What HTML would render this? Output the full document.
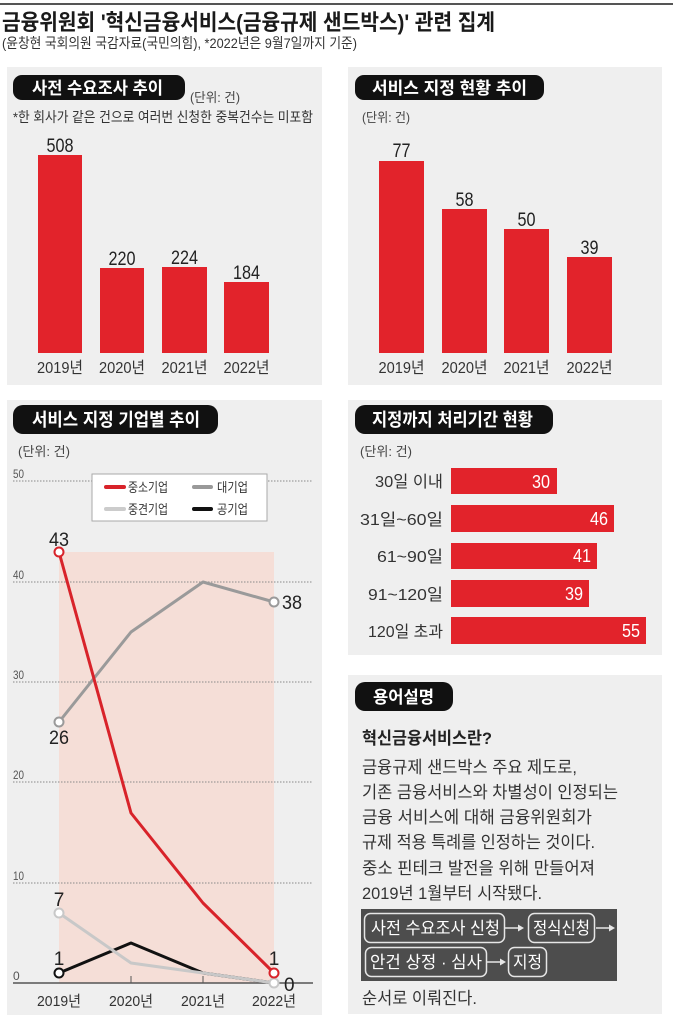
<!DOCTYPE html>
<html><head><meta charset="utf-8"><style>
html,body{margin:0;padding:0;background:#fff;}
svg{display:block;}
text{font-family:"Liberation Sans","Noto Sans CJK KR",sans-serif;}
.k{font-family:"Liberation Sans","Noto Sans CJK KR",sans-serif;}
</style></head><body>
<svg width="673" height="1024" viewBox="0 0 673 1024" xmlns="http://www.w3.org/2000/svg">
<rect x="0" y="0" width="673" height="1024" fill="#fff"/>
<rect x="0" y="3" width="673" height="2" fill="#555"/>
<text x="2" y="30" font-size="22" font-weight="bold" fill="#1a1a1a" textLength="493" lengthAdjust="spacingAndGlyphs">금융위원회 '혁신금융서비스(금융규제 샌드박스)' 관련 집계</text>
<text x="2" y="48" font-size="14" fill="#333" textLength="355" lengthAdjust="spacingAndGlyphs">(윤창현 국회의원 국감자료(국민의힘), *2022년은 9월7일까지 기준)</text>

<!-- Panel 1 -->
<rect x="7" y="67" width="315" height="318" fill="#efefef"/>
<rect x="13" y="75" width="172" height="25" rx="9" fill="#111"/>
<text x="32" y="94" font-size="17" font-weight="bold" fill="#fff" textLength="131" lengthAdjust="spacingAndGlyphs">사전 수요조사 추이</text>
<text x="190" y="102" font-size="13" fill="#444" textLength="50" lengthAdjust="spacingAndGlyphs">(단위: 건)</text>
<text x="13" y="122" font-size="14" fill="#333" textLength="300" lengthAdjust="spacingAndGlyphs">*한 회사가 같은 건으로 여러번 신청한 중복건수는 미포함</text>
<g fill="#e2232b">
<rect x="38" y="155" width="44" height="198"/>
<rect x="100" y="268" width="44" height="85"/>
<rect x="162" y="267" width="45" height="86"/>
<rect x="224" y="282" width="45" height="71"/>
</g>
<g font-size="19" fill="#222" text-anchor="middle">
<text x="60" y="152" textLength="27" lengthAdjust="spacingAndGlyphs">508</text>
<text x="122" y="265" textLength="27" lengthAdjust="spacingAndGlyphs">220</text>
<text x="184.5" y="264" textLength="27" lengthAdjust="spacingAndGlyphs">224</text>
<text x="246.5" y="279" textLength="27" lengthAdjust="spacingAndGlyphs">184</text>
</g>
<g font-size="16" fill="#333" text-anchor="middle">
<text x="60" y="373" textLength="46" lengthAdjust="spacingAndGlyphs">2019년</text>
<text x="122" y="373" textLength="46" lengthAdjust="spacingAndGlyphs">2020년</text>
<text x="184.5" y="373" textLength="46" lengthAdjust="spacingAndGlyphs">2021년</text>
<text x="246.5" y="373" textLength="46" lengthAdjust="spacingAndGlyphs">2022년</text>
</g>

<!-- Panel 2 -->
<rect x="348" y="67" width="314" height="318" fill="#efefef"/>
<rect x="355" y="75" width="189" height="25" rx="9" fill="#111"/>
<text x="372" y="94" font-size="17" font-weight="bold" fill="#fff" textLength="155" lengthAdjust="spacingAndGlyphs">서비스 지정 현황 추이</text>
<text x="362" y="122" font-size="13" fill="#444" textLength="48" lengthAdjust="spacingAndGlyphs">(단위: 건)</text>
<g fill="#e2232b">
<rect x="379" y="161" width="45" height="192"/>
<rect x="442" y="209" width="45" height="144"/>
<rect x="504" y="229" width="45" height="124"/>
<rect x="567" y="257" width="45" height="96"/>
</g>
<g font-size="19" fill="#222" text-anchor="middle">
<text x="401.5" y="157" textLength="18" lengthAdjust="spacingAndGlyphs">77</text>
<text x="464.5" y="206" textLength="18" lengthAdjust="spacingAndGlyphs">58</text>
<text x="526.5" y="226" textLength="18" lengthAdjust="spacingAndGlyphs">50</text>
<text x="589.5" y="254" textLength="18" lengthAdjust="spacingAndGlyphs">39</text>
</g>
<g font-size="16" fill="#333" text-anchor="middle">
<text x="401.5" y="373" textLength="46" lengthAdjust="spacingAndGlyphs">2019년</text>
<text x="464.5" y="373" textLength="46" lengthAdjust="spacingAndGlyphs">2020년</text>
<text x="526.5" y="373" textLength="46" lengthAdjust="spacingAndGlyphs">2021년</text>
<text x="589.5" y="373" textLength="46" lengthAdjust="spacingAndGlyphs">2022년</text>
</g>

<!-- Panel 3: line chart -->
<rect x="7" y="400" width="315" height="615" fill="#efefef"/>
<rect x="13" y="405" width="205" height="29" rx="10" fill="#111"/>
<text x="32" y="426" font-size="18" font-weight="bold" fill="#fff" textLength="168" lengthAdjust="spacingAndGlyphs">서비스 지정 기업별 추이</text>
<text x="18" y="456" font-size="13" fill="#444" textLength="52" lengthAdjust="spacingAndGlyphs">(단위: 건)</text>
<rect x="59" y="552" width="215" height="431" fill="#f5ded7"/>
<g stroke="#8a8a8a" stroke-width="1" stroke-dasharray="1.5,1.5">
<line x1="13" y1="481" x2="313" y2="481"/>
<line x1="13" y1="582" x2="313" y2="582"/>
<line x1="13" y1="682" x2="313" y2="682"/>
<line x1="13" y1="782" x2="313" y2="782"/>
<line x1="13" y1="883" x2="313" y2="883"/>
</g>
<g font-size="12" fill="#555">
<text x="13" y="478" textLength="11" lengthAdjust="spacingAndGlyphs">50</text>
<text x="13" y="579" textLength="11" lengthAdjust="spacingAndGlyphs">40</text>
<text x="13" y="679" textLength="11" lengthAdjust="spacingAndGlyphs">30</text>
<text x="13" y="779" textLength="11" lengthAdjust="spacingAndGlyphs">20</text>
<text x="13" y="880" textLength="11" lengthAdjust="spacingAndGlyphs">10</text>
<text x="13" y="980">0</text>
</g>
<line x1="13" y1="983" x2="313" y2="983" stroke="#555" stroke-width="1.5"/>
<g stroke="#555" stroke-width="1">
<line x1="131" y1="976" x2="131" y2="983"/>
<line x1="203" y1="976" x2="203" y2="983"/>
</g>
<!-- legend -->
<rect x="92" y="474" width="175" height="47" fill="#fff" stroke="#aaa" stroke-width="1"/>
<g stroke-width="4" stroke-linecap="round">
<line x1="106" y1="487" x2="124" y2="487" stroke="#d8232a"/>
<line x1="194" y1="487" x2="211" y2="487" stroke="#999"/>
<line x1="106" y1="509" x2="124" y2="509" stroke="#ccc"/>
<line x1="194" y1="509" x2="211" y2="509" stroke="#111"/>
</g>
<g font-size="13" fill="#333">
<text x="128" y="492" textLength="40" lengthAdjust="spacingAndGlyphs">중소기업</text>
<text x="217" y="492" textLength="31" lengthAdjust="spacingAndGlyphs">대기업</text>
<text x="128" y="514" textLength="40" lengthAdjust="spacingAndGlyphs">중견기업</text>
<text x="217" y="514" textLength="31" lengthAdjust="spacingAndGlyphs">공기업</text>
</g>
<!-- lines -->
<g fill="none" stroke-width="3" stroke-linejoin="round">
<polyline points="59,973 131,943 203,973 274,983" stroke="#111"/>
<polyline points="59,913 131,963 203,973 274,983" stroke="#c8c8c8"/>
<polyline points="59,722 131,632 203,582 274,602" stroke="#9a9a9a"/>
<polyline points="59,552 131,813 203,903 274,973" stroke="#d8232a"/>
</g>
<g fill="#fff" stroke-width="2">
<circle cx="59" cy="973" r="4.5" stroke="#111"/>
<circle cx="59" cy="913" r="4.5" stroke="#c8c8c8"/>
<circle cx="274" cy="983" r="4.5" stroke="#c8c8c8"/>
<circle cx="59" cy="722" r="4.5" stroke="#9a9a9a"/>
<circle cx="274" cy="602" r="4.5" stroke="#9a9a9a"/>
<circle cx="59" cy="552" r="4.5" stroke="#d8232a"/>
<circle cx="274" cy="973" r="4.5" stroke="#d8232a"/>
</g>
<g font-size="19" fill="#222">
<text x="59" y="546" text-anchor="middle" textLength="20" lengthAdjust="spacingAndGlyphs">43</text>
<text x="59" y="744" text-anchor="middle" textLength="20" lengthAdjust="spacingAndGlyphs">26</text>
<text x="282" y="609" textLength="20" lengthAdjust="spacingAndGlyphs">38</text>
<text x="59" y="906" text-anchor="middle">7</text>
<text x="59" y="965" text-anchor="middle">1</text>
<text x="274" y="965" text-anchor="middle">1</text>
<text x="284" y="991">0</text>
</g>
<g font-size="15" fill="#333" text-anchor="middle">
<text x="59" y="1006" textLength="44" lengthAdjust="spacingAndGlyphs">2019년</text>
<text x="131" y="1006" textLength="44" lengthAdjust="spacingAndGlyphs">2020년</text>
<text x="203" y="1006" textLength="44" lengthAdjust="spacingAndGlyphs">2021년</text>
<text x="274" y="1006" textLength="44" lengthAdjust="spacingAndGlyphs">2022년</text>
</g>

<!-- Panel 4: horizontal bars -->
<rect x="348" y="400" width="314" height="255" fill="#efefef"/>
<rect x="355" y="405" width="198" height="29" rx="10" fill="#111"/>
<text x="372" y="426" font-size="18" font-weight="bold" fill="#fff" textLength="161" lengthAdjust="spacingAndGlyphs">지정까지 처리기간 현황</text>
<text x="360" y="456" font-size="13" fill="#444" textLength="52" lengthAdjust="spacingAndGlyphs">(단위: 건)</text>
<g fill="#e2232b">
<rect x="451" y="468" width="106" height="26"/>
<rect x="451" y="505" width="163" height="27"/>
<rect x="451" y="543" width="146" height="26"/>
<rect x="451" y="580" width="138" height="27"/>
<rect x="451" y="617" width="195" height="27"/>
</g>
<g font-size="18" fill="#fff" text-anchor="end">
<text x="550" y="488" textLength="18" lengthAdjust="spacingAndGlyphs">30</text>
<text x="608" y="525" textLength="18" lengthAdjust="spacingAndGlyphs">46</text>
<text x="591" y="562" textLength="18" lengthAdjust="spacingAndGlyphs">41</text>
<text x="583" y="600" textLength="18" lengthAdjust="spacingAndGlyphs">39</text>
<text x="640" y="637" textLength="18" lengthAdjust="spacingAndGlyphs">55</text>
</g>
<g font-size="16" fill="#333">
<text x="375" y="487" textLength="68" lengthAdjust="spacingAndGlyphs">30일 이내</text>
<text x="360" y="525" textLength="83" lengthAdjust="spacingAndGlyphs">31일~60일</text>
<text x="377" y="562" textLength="66" lengthAdjust="spacingAndGlyphs">61~90일</text>
<text x="368" y="600" textLength="75" lengthAdjust="spacingAndGlyphs">91~120일</text>
<text x="368" y="637" textLength="75" lengthAdjust="spacingAndGlyphs">120일 초과</text>
</g>

<!-- Panel 5: glossary -->
<rect x="348" y="675" width="314" height="339" fill="#efefef"/>
<rect x="355" y="682" width="98" height="29" rx="10" fill="#111"/>
<text x="373" y="703" font-size="17" font-weight="bold" fill="#fff" textLength="61" lengthAdjust="spacingAndGlyphs">용어설명</text>
<text x="362" y="744" font-size="17" font-weight="bold" fill="#222" textLength="130" lengthAdjust="spacingAndGlyphs">혁신금융서비스란?</text>
<g font-size="17" fill="#333">
<text x="362" y="773" textLength="215" lengthAdjust="spacingAndGlyphs">금융규제 샌드박스 주요 제도로,</text>
<text x="362" y="798" textLength="256" lengthAdjust="spacingAndGlyphs">기존 금융서비스와 차별성이 인정되는</text>
<text x="362" y="823" textLength="230" lengthAdjust="spacingAndGlyphs">금융 서비스에 대해 금융위원회가</text>
<text x="362" y="848" textLength="233" lengthAdjust="spacingAndGlyphs">규제 적용 특례를 인정하는 것이다.</text>
<text x="362" y="874" textLength="233" lengthAdjust="spacingAndGlyphs">중소 핀테크 발전을 위해 만들어져</text>
<text x="362" y="899" textLength="180" lengthAdjust="spacingAndGlyphs">2019년 1월부터 시작됐다.</text>
<text x="362" y="1004" textLength="115" lengthAdjust="spacingAndGlyphs">순서로 이뤄진다.</text>
</g>
<rect x="361" y="909" width="256" height="72" fill="#4d4d4d"/>
<g fill="none" stroke="#e6e6e6" stroke-width="1.5">
<rect x="364.5" y="913.5" width="140" height="29" rx="6"/>
<rect x="528.5" y="913.5" width="66" height="29" rx="6"/>
<rect x="365.5" y="947.5" width="121" height="29" rx="6"/>
<rect x="508.5" y="947.5" width="38" height="29" rx="6"/>
<line x1="505" y1="928" x2="520" y2="928"/>
<line x1="596" y1="928" x2="611" y2="928"/>
<line x1="487" y1="962" x2="502" y2="962"/>
</g>
<g fill="#e6e6e6">
<polygon points="524,928 518,924.5 518,931.5"/>
<polygon points="615,928 609,924.5 609,931.5"/>
<polygon points="506,962 500,958.5 500,965.5"/>
</g>
<g font-size="17" fill="#fff">
<text x="371" y="934" textLength="129" lengthAdjust="spacingAndGlyphs">사전 수요조사 신청</text>
<text x="533" y="934" textLength="57" lengthAdjust="spacingAndGlyphs">정식신청</text>
<text x="370" y="968" textLength="112" lengthAdjust="spacingAndGlyphs">안건 상정 · 심사</text>
<text x="513" y="968" textLength="29" lengthAdjust="spacingAndGlyphs">지정</text>
</g>
</svg>
</body></html>
